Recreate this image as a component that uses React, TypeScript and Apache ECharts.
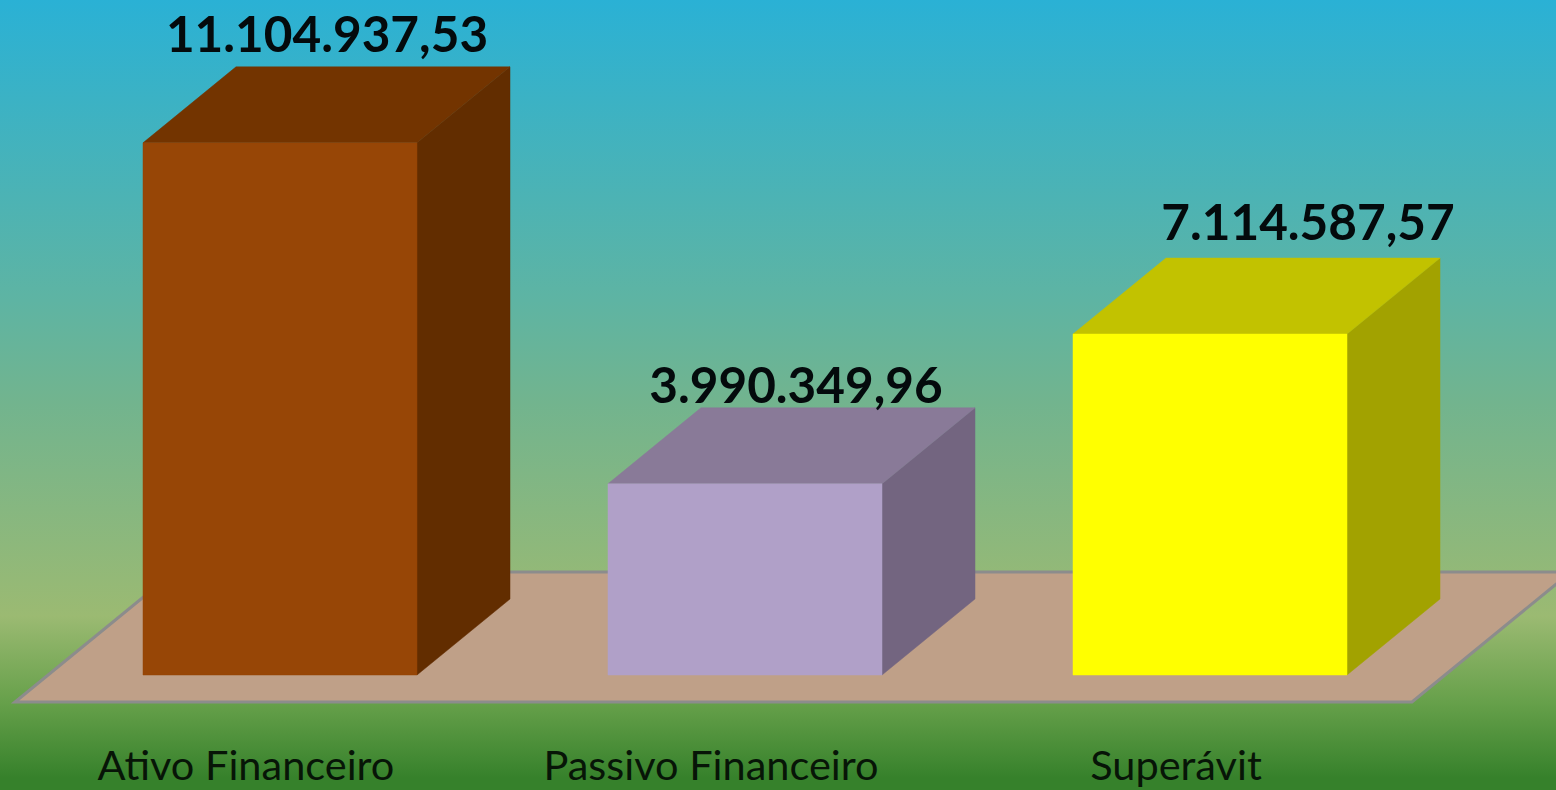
import React, { useEffect, useRef } from "react";
import * as echarts from "echarts";

const categories = ["Ativo Financeiro", "Passivo Financeiro", "Superávit"];
const values = [11104937.53, 3990349.96, 7114587.57];
const valueLabels = ["11.104.937,53", "3.990.349,96", "7.114.587,57"];

const frontColors = ["#974606", "#B0A0C8", "#FFFF00"];
const topColors = ["#733400", "#897A98", "#C2C200"];
const sideColors = ["#622D00", "#736580", "#A2A200"];
const labelShiftX = [47, 51, 98];
const labelGapY = [9, -1, 12];

const DEPTH_X = 93;
const DEPTH_Y = 76;
const BAR_W = 274;

const renderBar = (_p: any, api: any) => {
  const i = api.value(0);
  const [cx, top] = api.coord([i, api.value(1)]);
  const [, base] = api.coord([i, 0]);
  const l = cx - BAR_W / 2;
  const r = cx + BAR_W / 2;
  const poly = (points: number[][], fill: string) => ({
    type: "polygon",
    shape: { points },
    style: { fill, stroke: fill, lineWidth: 0.5 },
  });
  return {
    type: "group",
    children: [
      poly([[r, top], [r + DEPTH_X, top - DEPTH_Y], [r + DEPTH_X, base - DEPTH_Y], [r, base]], sideColors[i]),
      poly([[l, top], [l + DEPTH_X, top - DEPTH_Y], [r + DEPTH_X, top - DEPTH_Y], [r, top]], topColors[i]),
      poly([[l, top], [r, top], [r, base], [l, base]], frontColors[i]),
      {
        type: "text",
        style: {
          text: valueLabels[i],
          x: cx + labelShiftX[i],
          y: top - DEPTH_Y - labelGapY[i],
          textAlign: "center",
          textVerticalAlign: "bottom",
          font: 'bold 49.5px Lato, "Open Sans", sans-serif',
          fill: "#040a0c",
        },
      },
    ],
  };
};

const renderFloor = (p: any, api: any) => {
  const cs = p.coordSys;
  const [, base] = api.coord([0, 0]);
  const frontY = base + 27;
  const backY = base - 103;
  const frontL = cs.x - 32.5;
  const frontR = cs.x + cs.width - 30.5;
  const dx = 159;
  return {
    type: "polygon",
    shape: { points: [[frontL, frontY], [frontR, frontY], [frontR + dx, backY], [frontL + dx, backY]] },
    style: { fill: "#BFA088", stroke: "#8C8C8C", lineWidth: 3 },
  };
};

export default function App() {
  const ref = useRef<HTMLDivElement>(null);
  useEffect(() => {
    document.body.style.margin = "0";
    document.body.style.overflow = "hidden";
    const chart = echarts.init(ref.current!, null, { renderer: "svg" });
    chart.setOption({
      animation: false,
      backgroundColor: {
        type: "linear",
        x: 0,
        y: 0,
        x2: 0,
        y2: 1,
        colorStops: [
          { offset: 0, color: "#2AB1D5" },
          { offset: 0.38, color: "#5EB4A3" },
          { offset: 0.51, color: "#72B48E" },
          { offset: 0.78, color: "#9BBA72" },
          { offset: 0.89, color: "#66A04A" },
          { offset: 0.985, color: "#36812B" },
          { offset: 1, color: "#36812B" },
        ],
      },
      grid: { left: 47.5, width: 1395, top: 76, height: 599 },
      xAxis: {
        type: "category",
        data: categories,
        axisLine: { show: false },
        axisTick: { show: false },
        axisLabel: {
          interval: 0,
          margin: 68,
          padding: [0, 68, 0, 0],
          fontFamily: 'Lato, "Open Sans", sans-serif',
          fontSize: 41.5,
          color: "#071507",
        },
      },
      yAxis: { type: "value", min: 0, max: 12500000, show: false, splitLine: { show: false } },
      series: [
        { type: "custom", silent: true, renderItem: renderFloor, data: [[0, 0]], encode: { x: 0, y: 1 }, z: 1 },
        {
          type: "custom",
          silent: true,
          renderItem: renderBar,
          data: categories.map((_, i) => [i, values[i]]),
          encode: { x: 0, y: 1 },
          z: 2,
        },
      ],
    });
    return () => chart.dispose();
  }, []);
  return <div ref={ref} style={{ width: 1556, height: 790 }} />;
}
